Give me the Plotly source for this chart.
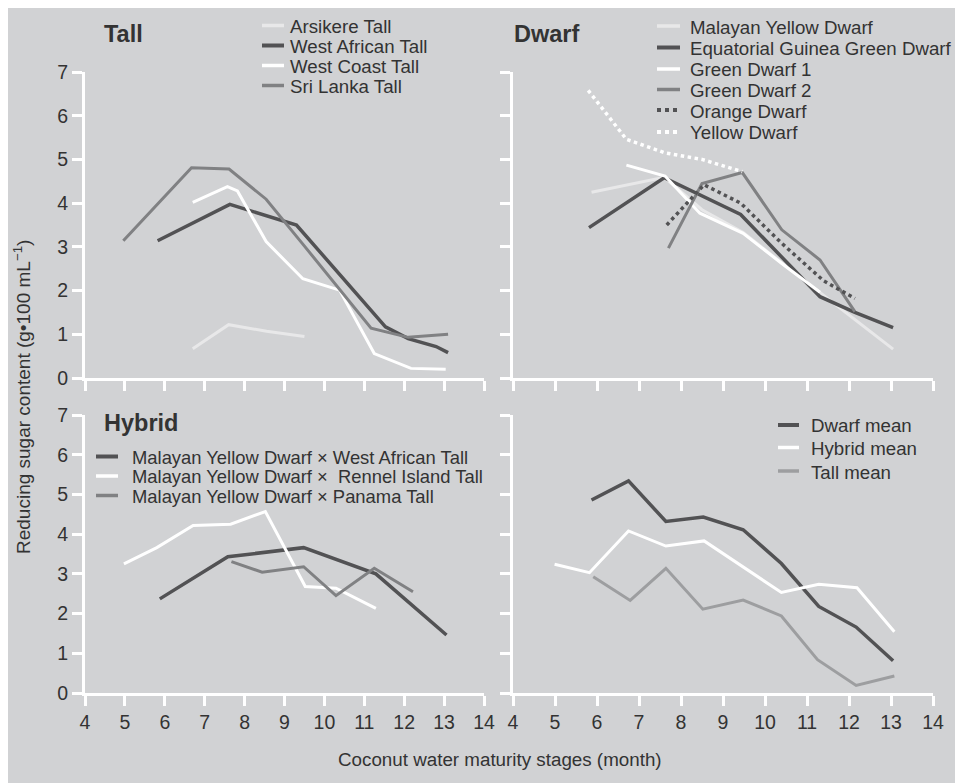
import plotly.graph_objects as go

# ---------------- data ----------------
months = [4, 5, 6, 7, 8, 9, 10, 11, 12, 13, 14]
sugar_ticks = [0, 1, 2, 3, 4, 5, 6, 7]

# Tall
arsikere_x = [6.7, 7.6, 8.55, 9.5]
arsikere_y = [0.67, 1.22, 1.07, 0.95]
wat_x = [5.82, 7.63, 9.3, 11.53, 12.1, 12.8, 13.1]
wat_y = [3.14, 3.97, 3.5, 1.17, 0.9, 0.72, 0.58]
wct_x = [6.7, 7.57, 7.82, 8.54, 9.46, 10.38, 11.25, 12.17, 13.04]
wct_y = [4.02, 4.38, 4.28, 3.12, 2.27, 2.01, 0.56, 0.22, 0.2]
slt_x = [4.96, 6.67, 7.61, 8.54, 9.48, 11.17, 12.1, 13.1]
slt_y = [3.14, 4.81, 4.78, 4.09, 3.04, 1.14, 0.93, 1.0]

# Dwarf
myd_x = [5.87, 7.6, 8.5, 9.48, 10.4, 11.31, 12.14, 13.05]
myd_y = [4.25, 4.59, 3.85, 3.33, 2.63, 1.95, 1.35, 0.66]
eggd_x = [5.81, 7.6, 9.42, 11.31, 12.14, 13.05]
eggd_y = [3.44, 4.58, 3.74, 1.86, 1.5, 1.15]
gd1_x = [6.7, 7.62, 8.45, 9.48, 10.4, 11.31]
gd1_y = [4.87, 4.62, 3.77, 3.31, 2.62, 1.96]
gd2_x = [7.7, 8.5, 9.46, 10.4, 11.31, 12.14]
gd2_y = [2.97, 4.45, 4.70, 3.39, 2.70, 1.52]
od_x = [7.66, 8.55, 9.42, 10.4, 11.4, 12.14]
od_y = [3.5, 4.42, 4.0, 3.08, 2.22, 1.82]
yd_x = [5.79, 6.7, 7.62, 8.5, 9.46]
yd_y = [6.58, 5.46, 5.15, 5.0, 4.72]

# Hybrid
h_wat_x = [5.875, 7.58, 9.48, 11.29, 13.06]
h_wat_y = [2.37, 3.43, 3.66, 3.0, 1.46]
h_rit_x = [4.975, 5.8, 6.71, 7.65, 8.52, 9.52, 10.29, 11.29]
h_rit_y = [3.25, 3.66, 4.22, 4.25, 4.57, 2.68, 2.64, 2.13]
h_pt_x = [7.67, 8.44, 9.48, 10.29, 11.25, 12.22]
h_pt_y = [3.31, 3.04, 3.18, 2.45, 3.14, 2.55]

# Means
dm_x = [5.87, 6.75, 7.64, 8.53, 9.48, 10.39, 11.28, 12.17, 13.05]
dm_y = [4.86, 5.34, 4.32, 4.43, 4.11, 3.26, 2.18, 1.66, 0.81]
hm_x = [4.99, 5.82, 6.75, 7.64, 8.55, 9.48, 10.39, 11.28, 12.19, 13.08]
hm_y = [3.24, 3.03, 4.08, 3.70, 3.83, 3.18, 2.53, 2.74, 2.65, 1.54]
tm_x = [5.91, 6.79, 7.64, 8.52, 9.48, 10.39, 11.25, 12.17, 13.08]
tm_y = [2.93, 2.33, 3.14, 2.11, 2.34, 1.94, 0.84, 0.19, 0.43]

# ---------------- styles ----------------
OFF = 8                      # page body margin
W, H = 963 - OFF, 783 - OFF  # figure size
BG = "#d1d2d4"
DARK = "#525254"
MED = "#808183"
LIGHT = "#e8e8e9"
WHITE = "#ffffff"
TALLM = "#9d9ea0"
TXT = "#333333"
FONT = "Liberation Sans, Arial, sans-serif"
TICK_SIZE = 19.5


def px(x):
    return (x - OFF) / W


def py(y):
    return 1 - (y - OFF) / H


panels = [
    dict(ax="x", ay="y", title="Tall", title_xy=(104, 33), fs=18.7,
         leg=dict(sx=(262, 284), tx=291, rows=[25.5, 45.5, 65.5, 85.5]),
         series=[
             ("Arsikere Tall", arsikere_x, arsikere_y, LIGHT, "solid", 3),
             ("West African Tall", wat_x, wat_y, DARK, "solid", 3.5),
             ("West Coast Tall", wct_x, wct_y, WHITE, "solid", 3),
             ("Sri Lanka Tall", slt_x, slt_y, MED, "solid", 3),
         ]),
    dict(ax="x2", ay="y2", title="Dwarf", title_xy=(514, 33), fs=18.7,
         leg=dict(sx=(657, 680), tx=691, rows=[26, 47.5, 69, 89.5, 110, 132]),
         series=[
             ("Malayan Yellow Dwarf", myd_x, myd_y, LIGHT, "solid", 3),
             ("Equatorial Guinea Green Dwarf", eggd_x, eggd_y, DARK, "solid", 3.5),
             ("Green Dwarf 1", gd1_x, gd1_y, WHITE, "solid", 3),
             ("Green Dwarf 2", gd2_x, gd2_y, MED, "solid", 3),
             ("Orange Dwarf", od_x, od_y, DARK, "dot", 3.5),
             ("Yellow Dwarf", yd_x, yd_y, WHITE, "dot", 3.5),
         ]),
    dict(ax="x3", ay="y3", title="Hybrid", title_xy=(104, 422), fs=18.4,
         leg=dict(sx=(96, 118), tx=133, rows=[456.5, 476, 495.5]),
         series=[
             ("Malayan Yellow Dwarf × West African Tall", h_wat_x, h_wat_y, DARK, "solid", 3.5),
             ("Malayan Yellow Dwarf ×\u00a0 Rennel Island Tall", h_rit_x, h_rit_y, WHITE, "solid", 3),
             ("Malayan Yellow Dwarf × Panama Tall", h_pt_x, h_pt_y, MED, "solid", 3),
         ]),
    dict(ax="x4", ay="y4", title=None, title_xy=None, fs=18.7,
         leg=dict(sx=(778, 799), tx=812, rows=[425, 447.5, 471]),
         series=[
             ("Dwarf mean", dm_x, dm_y, DARK, "solid", 3.5),
             ("Hybrid mean", hm_x, hm_y, WHITE, "solid", 3),
             ("Tall mean", tm_x, tm_y, TALLM, "solid", 3),
         ]),
]

fig = go.Figure()
shapes = []
annotations = []

for p in panels:
    for name, xs, ys, col, dash, lw in p["series"]:
        fig.add_trace(go.Scatter(x=xs, y=ys, mode="lines", name=name,
                                 xaxis=p["ax"], yaxis=p["ay"], showlegend=False,
                                 line=dict(color=col, width=lw, dash=dash),
                                 hoverinfo="skip"))
    lg = p["leg"]
    for (name, xs, ys, col, dash, lw), ry in zip(p["series"], lg["rows"]):
        shapes.append(dict(type="line", xref="paper", yref="paper",
                           x0=px(lg["sx"][0]), x1=px(lg["sx"][1]),
                           y0=py(ry), y1=py(ry),
                           line=dict(color=col, width=lw + 0.5, dash=dash)))
        annotations.append(dict(text=name, xref="paper", yref="paper",
                                x=px(lg["tx"] - 2), y=py(ry + 1), xanchor="left",
                                yanchor="middle", showarrow=False, borderpad=0,
                                font=dict(size=p["fs"], color=TXT, family=FONT)))
    if p["title"]:
        annotations.append(dict(text="<b>%s</b>" % p["title"], xref="paper", yref="paper",
                                x=px(p["title_xy"][0] - 2), y=py(p["title_xy"][1] + 1),
                                xanchor="left", yanchor="middle", showarrow=False,
                                font=dict(size=23.5, color=TXT, family=FONT)))

annotations.append(dict(text="Reducing sugar content (g•100 mL<sup>−1</sup>)",
                        xref="paper", yref="paper", x=px(22), y=py(397),
                        textangle=-90, showarrow=False, xanchor="center",
                        yanchor="middle", font=dict(size=19, color=TXT, family=FONT)))
annotations.append(dict(text="Coconut water maturity stages (month)",
                        xref="paper", yref="paper", x=px(500), y=py(759),
                        showarrow=False, xanchor="center", yanchor="middle",
                        font=dict(size=18.8, color=TXT, family=FONT)))

axis_common = dict(showline=True, linecolor=WHITE, linewidth=3, ticks="outside",
                   ticklen=10, tickwidth=3, tickcolor=WHITE, showgrid=False,
                   zeroline=False, fixedrange=True,
                   tickfont=dict(size=TICK_SIZE, color=TXT, family=FONT))

xl = [px(85), px(484)]
xr = [px(513), px(933)]
yt = [py(378), py(72)]
yb = [py(693), py(415)]

fig.update_layout(
    width=W, height=H, margin=dict(l=0, r=0, t=0, b=0),
    paper_bgcolor=BG, plot_bgcolor=BG, template="none",
    showlegend=False, shapes=shapes, annotations=annotations,
    font=dict(family=FONT, color=TXT),
    xaxis=dict(domain=xl, anchor="y", range=[4, 14], tickvals=months,
               showticklabels=False, **axis_common),
    yaxis=dict(domain=yt, anchor="x", range=[0, 7], tickvals=sugar_ticks,
               **axis_common),
    xaxis2=dict(domain=xr, anchor="y2", range=[4, 14], tickvals=months,
                showticklabels=False, **axis_common),
    yaxis2=dict(domain=yt, anchor="x2", range=[0, 7], tickvals=sugar_ticks,
                showticklabels=False, **axis_common),
    xaxis3=dict(domain=xl, anchor="y3", range=[4, 14], tickvals=months,
                **axis_common),
    yaxis3=dict(domain=yb, anchor="x3", range=[0, 7], tickvals=sugar_ticks,
                **axis_common),
    xaxis4=dict(domain=xr, anchor="y4", range=[4, 14], tickvals=months,
                **axis_common),
    yaxis4=dict(domain=yb, anchor="x4", range=[0, 7], tickvals=sugar_ticks,
                showticklabels=False, **axis_common),
)

fig.write_html("out.html")
